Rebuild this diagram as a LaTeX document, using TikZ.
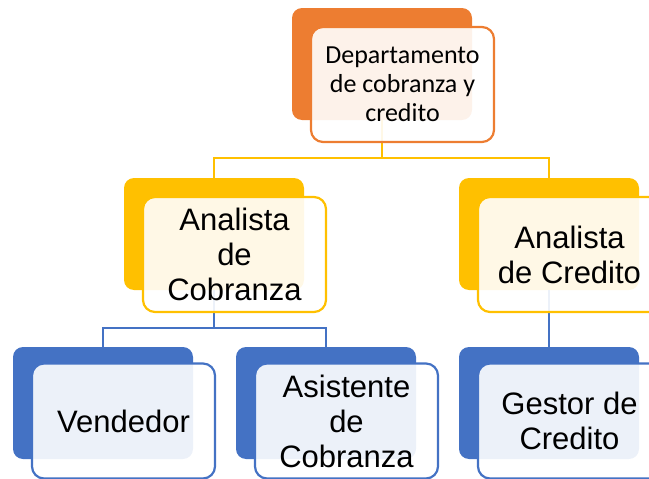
\documentclass[tikz,border=0pt]{standalone}
\usepackage{fontspec}
\setmainfont{Liberation Sans}
\newfontfamily\calibri{Carlito}
\definecolor{orgA}{HTML}{ED7D31}
\definecolor{yelA}{HTML}{FFC000}
\definecolor{bluA}{HTML}{4472C4}
\begin{document}
\begin{tikzpicture}[x=1pt, y=-1pt,
    back/.style={fill=#1, draw=none, rounded corners=10pt, minimum width=180pt, minimum height=112pt, inner sep=0pt},
    front/.style={draw=#1, line width=2.2pt, fill=white, fill opacity=0.9, text opacity=1, rounded corners=12pt,
        minimum width=183pt, minimum height=115pt, inner sep=0pt, align=center, font=\fontsize{31}{35}\selectfont},
    conn/.style={draw=#1, line width=2.2pt}]
    \useasboundingbox (0,0) rectangle (649,479);

        \node[back=orgA] (dep) at (382,64) {};
        \node[back=yelA] (anaC) at (214,234) {};
        \node[back=yelA] (anaCr) at (549,234) {};
        \node[back=bluA] (vend) at (103,403) {};
        \node[back=bluA] (asis) at (326,403) {};
        \node[back=bluA] (gest) at (549,403) {};

        \draw[conn=yelA] (dep.south) -- ++(0,38) -| (anaC.north);
        \draw[conn=yelA] (dep.south) -- ++(0,38) -| (anaCr.north);
        \draw[conn=bluA] (anaC.south) -- ++(0,38) -| (vend.north);
        \draw[conn=bluA] (anaC.south) -- ++(0,38) -| (asis.north);
        \draw[conn=bluA] (anaCr.south) -- (gest.north);

        \node[front=orgA, font=\calibri\fontsize{26}{29}\selectfont] (depT) at (402.5,84.5) {Departamento\\de cobranza y\\credito};
        \node[front=yelA] (anaCT) at (234.5,254.5) {Analista\\de\\Cobranza};
        \node[front=yelA] (anaCrT) at (569.5,254.5) {Analista\\de Credito};
        \node[front=bluA] (vendT) at (123.5,421) {Vendedor};
        \node[front=bluA] (asisT) at (346.5,421) {Asistente\\de\\Cobranza};
        \node[front=bluA] (gestT) at (569.5,421) {Gestor de\\Credito};
    \end{tikzpicture}
\end{document}
